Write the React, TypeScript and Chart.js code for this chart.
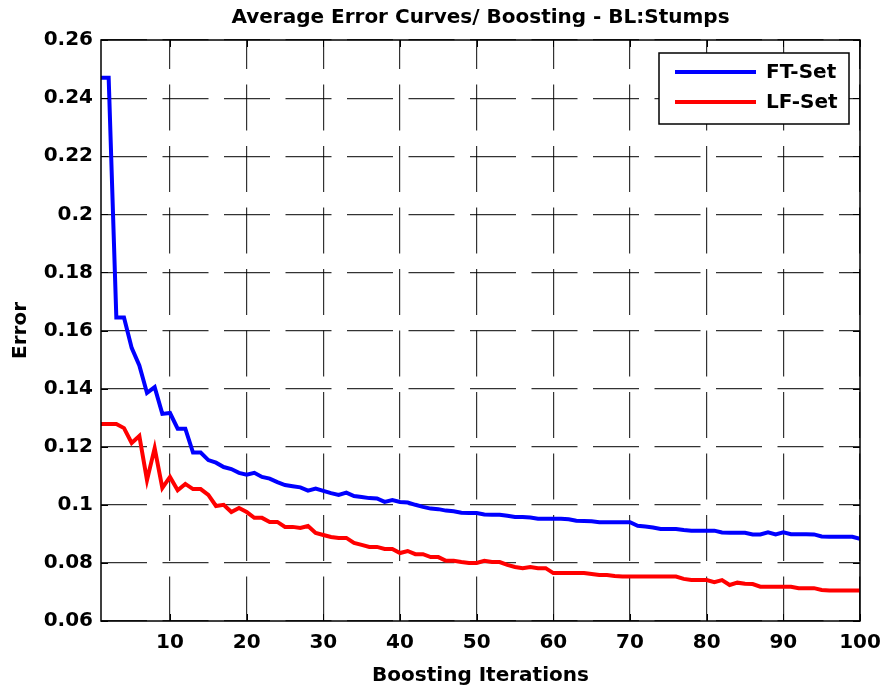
import React, { useEffect, useRef } from "react";
import { Chart, registerables } from "chart.js";

Chart.register(...registerables);

const TITLE = "Average Error Curves/ Boosting - BL:Stumps";
const X_TITLE = "Boosting Iterations";
const Y_TITLE = "Error";
const SERIES_NAMES = ["FT-Set", "LF-Set"];
const ITERATIONS = Array.from({ length: 100 }, (_, i) => i + 1);
const X_TICKS = [10, 20, 30, 40, 50, 60, 70, 80, 90, 100];
const Y_TICKS = [0.06, 0.08, 0.1, 0.12, 0.14, 0.16, 0.18, 0.2, 0.22, 0.24, 0.26];

const FT_SET = [
  0.247, 0.247, 0.1645, 0.1645, 0.154, 0.148, 0.1385, 0.1405, 0.1313, 0.1316,
  0.1262, 0.1262, 0.118, 0.118, 0.1154, 0.1145, 0.113, 0.1123, 0.111, 0.1104,
  0.111, 0.1096, 0.109, 0.1078, 0.1068, 0.1064, 0.106, 0.1049, 0.1056, 0.1048,
  0.104, 0.1034, 0.1042, 0.103, 0.1027, 0.1023, 0.1022, 0.101, 0.1016, 0.101,
  0.1008, 0.1, 0.0993, 0.0987, 0.0985, 0.098, 0.0978, 0.0973, 0.0972, 0.0972,
  0.0967, 0.0966, 0.0966, 0.0962, 0.0958, 0.0958, 0.0956, 0.0952, 0.0952, 0.0952,
  0.0952, 0.095, 0.0945, 0.0944, 0.0943, 0.094, 0.094, 0.094, 0.094, 0.094,
  0.0928, 0.0925, 0.0922, 0.0917, 0.0917, 0.0917, 0.0913, 0.0911, 0.0911, 0.0911,
  0.0911, 0.0905, 0.0904, 0.0904, 0.0904, 0.0898, 0.0898, 0.0905, 0.0898, 0.0905,
  0.0899, 0.0899, 0.0899, 0.0898, 0.0891, 0.089, 0.089, 0.089, 0.089, 0.0883,
];

const LF_SET = [
  0.1278, 0.1278, 0.1278, 0.1264, 0.1213, 0.1237, 0.1085, 0.1195, 0.1058, 0.1096,
  0.105, 0.1072, 0.1054, 0.1054, 0.1034, 0.0996, 0.1, 0.0975, 0.0989, 0.0975,
  0.0955, 0.0955, 0.0941, 0.0941, 0.0924, 0.0924, 0.092, 0.0927, 0.0903, 0.0896,
  0.0889, 0.0886, 0.0886, 0.0869, 0.0862, 0.0855, 0.0855, 0.0848, 0.0848, 0.0834,
  0.0841, 0.083, 0.083, 0.082, 0.082, 0.0807, 0.0807, 0.0803, 0.08, 0.08,
  0.0807, 0.0803, 0.0803, 0.0793, 0.0786, 0.0782, 0.0786, 0.0782, 0.0782, 0.0765,
  0.0765, 0.0765, 0.0765, 0.0765, 0.0762, 0.0758, 0.0758, 0.0755, 0.0753, 0.0753,
  0.0753, 0.0753, 0.0753, 0.0753, 0.0753, 0.0753, 0.0745, 0.0741, 0.0741, 0.0741,
  0.0734, 0.0741, 0.0724, 0.0732, 0.0728, 0.0727, 0.0718, 0.0718, 0.0718, 0.0718,
  0.0718, 0.0713, 0.0713, 0.0713, 0.0707, 0.0705, 0.0705, 0.0705, 0.0705, 0.0705,
];

const COLORS = ["#0000ff", "#ff0000"];
const FONT_FAMILY = "'DejaVu Sans', Verdana, sans-serif";

const boxPlugin = {
  id: "matlabBox",
  afterDatasetsDraw(chart: any) {
    const { ctx, chartArea } = chart;
    const { left, right, top, bottom } = chartArea;
    const xs = chart.scales.x;
    const ys = chart.scales.y;
    ctx.save();
    ctx.strokeStyle = "#000";
    ctx.lineWidth = 1;
    // inward tick marks
    const tl = 7;
    ctx.beginPath();
    X_TICKS.forEach((t) => {
      const px = Math.round(xs.getPixelForValue(t)) + 0.5;
      ctx.moveTo(px, bottom);
      ctx.lineTo(px, bottom - tl);
      ctx.moveTo(px, top);
      ctx.lineTo(px, top + tl);
    });
    Y_TICKS.forEach((t) => {
      const py = Math.round(ys.getPixelForValue(t)) + 0.5;
      ctx.moveTo(left, py);
      ctx.lineTo(left + tl, py);
      ctx.moveTo(right, py);
      ctx.lineTo(right - tl, py);
    });
    ctx.stroke();
    // box
    ctx.lineWidth = 1.5;
    ctx.strokeRect(left, top, right - left, bottom - top);

    // title centred over the axes
    ctx.fillStyle = "#000";
    ctx.font = `bold 20px ${FONT_FAMILY}`;
    ctx.textAlign = "center";
    ctx.textBaseline = "middle";
    ctx.fillText(TITLE, (left + right) / 2, top - 22);

    // legend
    const bw = 190;
    const bh = 71;
    const bx = right - 11 - bw;
    const by = top + 13;
    ctx.fillStyle = "#fff";
    ctx.fillRect(bx, by, bw, bh);
    ctx.lineWidth = 1.5;
    ctx.strokeStyle = "#000";
    ctx.strokeRect(bx, by, bw, bh);
    chart.data.datasets.forEach((ds: any, i: number) => {
      const ly = by + 19 + i * 30;
      ctx.strokeStyle = ds.borderColor;
      ctx.lineWidth = 4;
      ctx.beginPath();
      ctx.moveTo(bx + 16, ly);
      ctx.lineTo(bx + 97, ly);
      ctx.stroke();
      ctx.fillStyle = "#000";
      ctx.font = `bold 20px ${FONT_FAMILY}`;
      ctx.textAlign = "left";
      ctx.textBaseline = "middle";
      ctx.fillText(ds.label, bx + 107, ly + 1);
    });
    ctx.restore();
  },
};

export default function App() {
  const canvasRef = useRef<HTMLCanvasElement | null>(null);

  useEffect(() => {
    const canvas = canvasRef.current;
    if (!canvas) return;
    const gridCommon = {
      color: "rgba(0,0,0,0.8)",
      lineWidth: 1.2,
      drawTicks: false,
    };
    const chart = new Chart(canvas, {
      type: "line",
      data: {
        datasets: [
          {
            label: SERIES_NAMES[0],
            data: FT_SET.map((v, i) => ({ x: ITERATIONS[i], y: v })),
            borderColor: COLORS[0],
            backgroundColor: COLORS[0],
            borderWidth: 4,
            pointRadius: 0,
            tension: 0,
          },
          {
            label: SERIES_NAMES[1],
            data: LF_SET.map((v, i) => ({ x: ITERATIONS[i], y: v })),
            borderColor: COLORS[1],
            backgroundColor: COLORS[1],
            borderWidth: 4,
            pointRadius: 0,
            tension: 0,
          },
        ],
      },
      options: {
        animation: false,
        responsive: false,
        maintainAspectRatio: false,
        layout: { padding: { left: 0, right: 25, top: 40, bottom: 0 } },
        plugins: {
          legend: { display: false },
          tooltip: { enabled: false },
          title: { display: false },
        },
        scales: {
          x: {
            type: "linear",
            min: 1,
            max: 100,
            afterBuildTicks: (scale: any) => {
              scale.ticks = X_TICKS.map((v) => ({ value: v }));
            },
            afterFit: (scale: any) => {
              scale.height = 67;
              scale.paddingLeft = 0;
              scale.paddingRight = 0;
            },
            grid: gridCommon,
            border: { display: false, dash: [46, 15.5], dashOffset: 17 },
            ticks: {
              color: "#000",
              padding: 10,
              maxRotation: 0,
              autoSkip: false,
              font: { family: FONT_FAMILY, size: 20, weight: "bold" },
              callback: (v: any) => String(v),
            },
            title: {
              display: true,
              text: X_TITLE,
              color: "#000",
              font: { family: FONT_FAMILY, size: 20, weight: "bold" },
              padding: 0,
            },
          },
          y: {
            type: "linear",
            min: 0.06,
            max: 0.26,
            afterBuildTicks: (scale: any) => {
              scale.ticks = Y_TICKS.map((v) => ({ value: v }));
            },
            afterFit: (scale: any) => {
              scale.width = 101;
              scale.paddingTop = 0;
              scale.paddingBottom = 0;
            },
            grid: gridCommon,
            border: { display: false, dash: [46, 15.5], dashOffset: 0 },
            ticks: {
              color: "#000",
              padding: 8,
              autoSkip: false,
              font: { family: FONT_FAMILY, size: 20, weight: "bold" },
              callback: (v: any) => String(Number(Number(v).toFixed(2))),
            },
            title: {
              display: true,
              text: Y_TITLE,
              color: "#000",
              font: { family: FONT_FAMILY, size: 20, weight: "bold" },
              padding: 9,
            },
          },
        },
      },
      plugins: [boxPlugin],
    } as any);
    return () => chart.destroy();
  }, []);

  return (
    <div
      style={{
        position: "fixed",
        left: 0,
        top: 0,
        width: 885,
        height: 688,
        background: "#fff",
      }}
    >
      <canvas ref={canvasRef} width={885} height={688} style={{ display: "block" }} />
    </div>
  );
}
